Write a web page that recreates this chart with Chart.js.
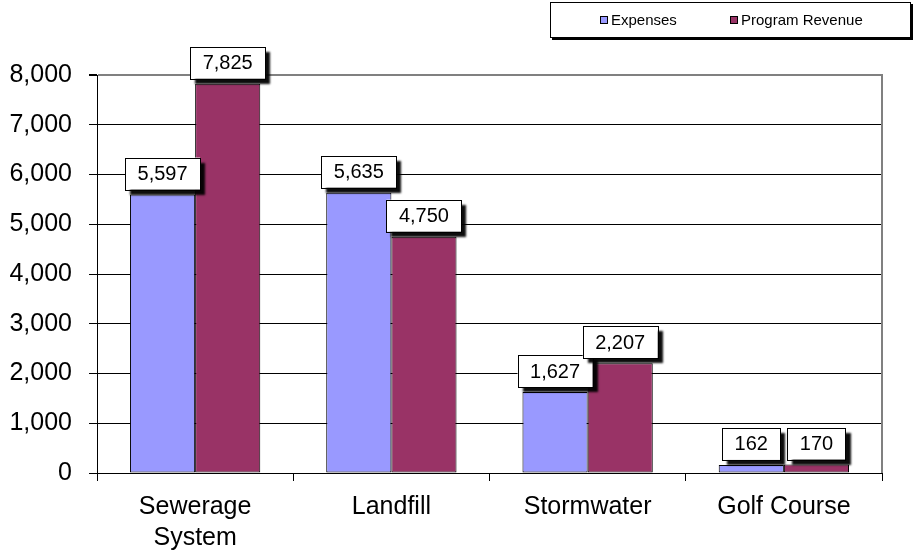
<!DOCTYPE html>
<html>
<head>
<meta charset="utf-8">
<script src="https://cdn.jsdelivr.net/npm/chart.js@4.4.1/dist/chart.umd.min.js"></script>
<style>
  html, body { margin: 0; padding: 0; background: #fff; }
  #wrap { position: relative; width: 916px; height: 550px; }
  #legend {
    position: absolute; left: 550px; top: 2px; width: 359px; height: 34px;
    border: 1px solid #000; box-shadow: 2px 2px 0 #000; background: #fff;
    font: 15px "Liberation Sans", Arial, sans-serif; color: #000;
  }
  #legend .item { position: absolute; top: 8px; white-space: nowrap; line-height: 17px; }
  #legend .sw { display: inline-block; width: 6px; height: 6px; border: 1px solid #000; margin-right: 3px; vertical-align: 1px; }
</style>
</head>
<body>
<div id="wrap">
  <canvas id="chart" width="916" height="550"></canvas>
  <div id="legend"></div>
</div>
<script>
// data
const categories = [['Sewerage', 'System'], 'Landfill', 'Stormwater', 'Golf Course'];
const expenses = [5597, 5635, 1627, 162];
const programRevenue = [7825, 4750, 2207, 170];
const yTicks = [0, 1000, 2000, 3000, 4000, 5000, 6000, 7000, 8000];

const FONT = '"Liberation Sans", Arial, sans-serif';

// value boxes with a drop shadow above each bar
const boxLabels = {
  id: 'boxLabels',
  afterDatasetsDraw(chart) {
    const ctx = chart.ctx;
    ctx.save();
    ctx.font = '20px ' + FONT;
    chart.data.datasets.forEach((ds, i) => {
      chart.getDatasetMeta(i).data.forEach((bar, j) => {
        const txt = ds.data[j].toLocaleString('en-US');
        const w = ctx.measureText(txt).width + 25;
        const h = 32;
        const x = bar.x - w / 2;
        const y = bar.y - 5 - h;
        ctx.save();
        ctx.shadowColor = 'rgba(0,0,0,0.95)';
        ctx.shadowOffsetX = 5;
        ctx.shadowOffsetY = 5;
        ctx.shadowBlur = 2;
        ctx.fillStyle = '#fff';
        ctx.fillRect(x, y, w, h);
        ctx.restore();
        ctx.strokeStyle = '#000';
        ctx.lineWidth = 1;
        ctx.strokeRect(Math.round(x) + 0.5, Math.round(y) + 0.5, Math.round(w), h);
        ctx.fillStyle = '#000';
        ctx.textAlign = 'center';
        ctx.textBaseline = 'middle';
        ctx.fillText(txt, bar.x, y + h / 2 + 1);
      });
    });
    ctx.restore();
  }
};

// gray frame line on the right of the plot
const rightFrame = {
  id: 'rightFrame',
  beforeDatasetsDraw(chart) {
    const { ctx, chartArea } = chart;
    ctx.save();
    ctx.strokeStyle = '#808080';
    ctx.lineWidth = 2;
    ctx.beginPath();
    ctx.moveTo(chartArea.right, chartArea.top - 1);
    ctx.lineTo(chartArea.right, chartArea.bottom);
    ctx.stroke();
    ctx.restore();
  }
};

const chart = new Chart(document.getElementById('chart'), {
  type: 'bar',
  data: {
    labels: categories,
    datasets: [
      { label: 'Expenses', data: expenses, backgroundColor: '#9999FF', borderColor: '#000', borderWidth: 1, borderSkipped: false },
      { label: 'Program Revenue', data: programRevenue, backgroundColor: '#993366', borderColor: '#000', borderWidth: 1, borderSkipped: false }
    ]
  },
  options: {
    responsive: false,
    animation: false,
    devicePixelRatio: 1,
    layout: { padding: { left: 0, top: 75, right: 34, bottom: 0 } },
    datasets: { bar: { categoryPercentage: 0.664, barPercentage: 1 } },
    plugins: { legend: { display: false }, tooltip: { enabled: false } },
    scales: {
      x: {
        afterFit: s => { s.height = 77; },
        grid: { drawOnChartArea: false, drawTicks: true, tickLength: 8, color: '#000', offset: true },
        border: { color: '#000', width: 1 },
        ticks: { color: '#000', padding: 10, font: { family: FONT, size: 25, lineHeight: 1.25 } }
      },
      y: {
        min: 0, max: 8000,
        afterFit: s => { s.width = 97; },
        afterBuildTicks: s => { s.ticks = yTicks.map(v => ({ value: v })); },
        grid: {
          color: c => (c.tick && c.tick.value === 8000 ? '#808080' : '#000'),
          lineWidth: c => (c.tick && c.tick.value === 8000 ? 2 : 1),
          tickColor: '#000', tickLength: 8
        },
        border: { color: '#000', width: 1 },
        ticks: {
          color: '#000', padding: 17,
          font: { family: FONT, size: 25 },
          callback: v => v.toLocaleString('en-US')
        }
      }
    }
  },
  plugins: [rightFrame, boxLabels]
});

// legend built from the datasets
const legend = document.getElementById('legend');
const itemLeft = [49, 179];
chart.data.datasets.forEach((ds, i) => {
  const item = document.createElement('div');
  item.className = 'item';
  item.style.left = itemLeft[i] + 'px';
  const sw = document.createElement('span');
  sw.className = 'sw';
  sw.style.background = ds.backgroundColor;
  item.appendChild(sw);
  item.appendChild(document.createTextNode(ds.label));
  legend.appendChild(item);
});
</script>
</body>
</html>
